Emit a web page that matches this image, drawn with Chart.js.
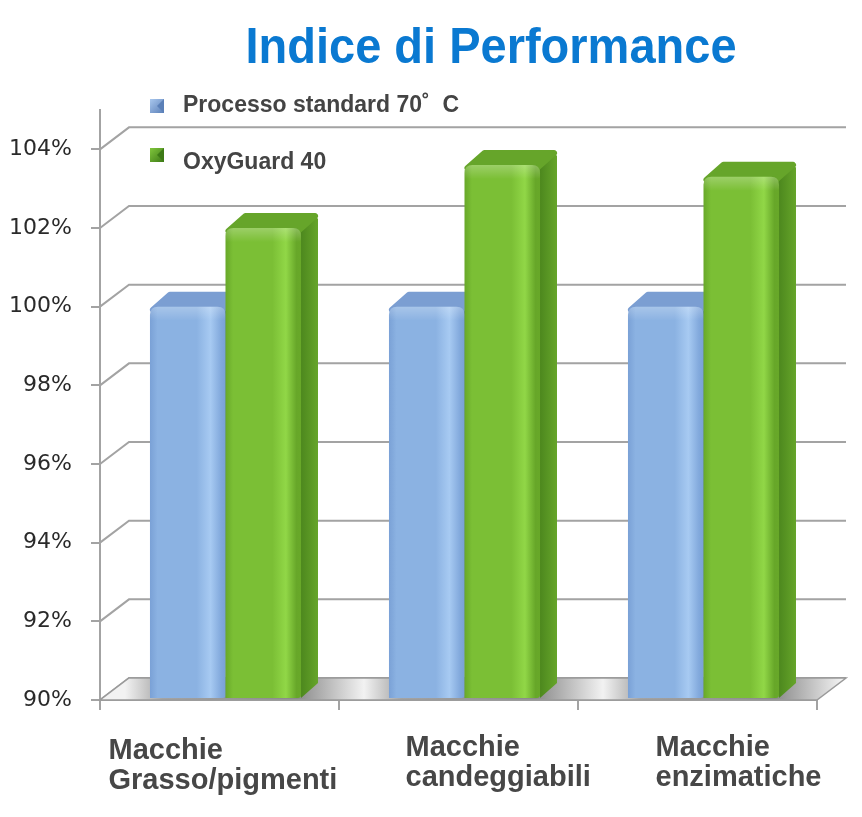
<!DOCTYPE html>
<html>
<head>
<meta charset="utf-8">
<script src="https://cdn.jsdelivr.net/npm/chart.js@4"></script>
<style>
  html, body { margin: 0; padding: 0; background: #fff; }
  #wrap { width: 862px; height: 817px; position: relative; }
</style>
</head>
<body>
<div id="wrap"><canvas id="chart"></canvas></div>
<script>
// data
const categories = [
    ['Macchie', 'Grasso/pigmenti'],
    ['Macchie', 'candeggiabili'],
    ['Macchie', 'enzimatiche']
];
const seriesNames = ['Processo standard 70˚  C', 'OxyGuard 40'];
const standardValues = [100, 100, 100];
const oxyGuardValues = [102.0, 103.6, 103.3];
const yTickValues = [90, 92, 94, 96, 98, 100, 102, 104];
const chartTitle = 'Indice di Performance';

// look
const WALL = { dx: 29, dy: 22 };
const BAR = { shift: 6, dx: 17, dy: 15, r: 8 };
const GRID_COLOR = '#a3a3a3';
const palette = [
    { front: ['#7aa1d6', '#8bb2e2', '#a7caf2', '#82a9dc'], top: '#7b9ed2', side: '#6284b9', mark: ['#5b80b8', '#a9c7ee'] },
    { front: ['#68a829', '#7bbf35', '#91d747', '#67a729'], top: '#66a52a', side: '#4d881e', mark: ['#3d7a16', '#80c63c'] }
];
// where each category caption starts, relative to the category centre
const labelDx = [-111, -53, -42];
const labelDy = [59, 56, 56];
// legend rows: marker top and text baseline
const legendRows = [{ my: 99, ty: 112 }, { my: 148, ty: 169 }];

function frontPath(ctx, l, t, w, h, r) {
    ctx.beginPath();
    ctx.moveTo(l, t + h);
    ctx.lineTo(l, t + r);
    ctx.quadraticCurveTo(l, t, l + r, t);
    ctx.lineTo(l + w - r, t);
    ctx.quadraticCurveTo(l + w, t, l + w, t + r);
    ctx.lineTo(l + w, t + h - 3);
    ctx.quadraticCurveTo(l + w, t + h, l + w - 3, t + h);
    ctx.lineTo(l + 3, t + h);
    ctx.closePath();
}

function poly(ctx, pts) {
    ctx.beginPath();
    ctx.moveTo(pts[0][0], pts[0][1]);
    for (let i = 1; i < pts.length; i++) ctx.lineTo(pts[i][0], pts[i][1]);
    ctx.closePath();
}

function drawBar(ctx, el, pal, floorY) {
    const { x, y, width } = el.getProps(['x', 'y', 'width'], true);
    const l = x - width / 2 + BAR.shift;
    const r = l + width;
    const t = y;
    const b = floorY - 2;

    // right side
    const side = ctx.createLinearGradient(r, 0, r + BAR.dx, 0);
    side.addColorStop(0, pal.side);
    side.addColorStop(1, pal.top);
    ctx.fillStyle = side;
    poly(ctx, [[r - 2, t + 2], [r + BAR.dx - 3, t - BAR.dy + 2], [r + BAR.dx, t - BAR.dy + 6],
        [r + BAR.dx, b - BAR.dy], [r, b]]);
    ctx.fill();

    // top
    ctx.fillStyle = pal.top;
    ctx.strokeStyle = pal.top;
    ctx.lineJoin = 'round';
    ctx.lineWidth = 6;
    poly(ctx, [[l + 3, t + 3], [r - 3, t + 3], [r + BAR.dx - 3, t - BAR.dy + 3], [l + BAR.dx + 3, t - BAR.dy + 3]]);
    ctx.fill();
    ctx.stroke();

    // front
    const g = ctx.createLinearGradient(l, 0, r, 0);
    g.addColorStop(0, pal.front[0]);
    g.addColorStop(0.1, pal.front[1]);
    g.addColorStop(0.62, pal.front[1]);
    g.addColorStop(0.8, pal.front[2]);
    g.addColorStop(0.94, pal.front[3]);
    g.addColorStop(1, pal.front[0]);
    ctx.fillStyle = g;
    frontPath(ctx, l, t, width, b - t, BAR.r);
    ctx.fill();
    // soft bevel on the top edge
    const sheen = ctx.createLinearGradient(0, t, 0, t + 14);
    sheen.addColorStop(0, 'rgba(255,255,255,0.25)');
    sheen.addColorStop(1, 'rgba(255,255,255,0)');
    ctx.fillStyle = sheen;
    frontPath(ctx, l, t, width, 14, BAR.r);
    ctx.fill();
}

const scene3d = {
    id: 'scene3d',
    beforeDatasetsDraw(chart) {
        const { ctx, chartArea: a, scales } = chart;
        const ys = scales.y;
        ctx.save();

        // back wall grid with the diagonal on the side wall
        ctx.strokeStyle = GRID_COLOR;
        ctx.lineWidth = 2;
        ys.ticks.forEach(t => {
            const py = ys.getPixelForValue(t.value);
            ctx.beginPath();
            ctx.moveTo(a.left, py);
            ctx.lineTo(a.left + WALL.dx, py - WALL.dy);
            ctx.lineTo(a.right + WALL.dx, py - WALL.dy);
            ctx.stroke();
        });

        // floor
        const fy = ys.getPixelForValue(yTickValues[0]);
        const fl = ctx.createLinearGradient(a.left, 0, a.right + WALL.dx, 0);
        const span = a.right + WALL.dx - a.left;
        const step = (a.right - a.left) / categories.length;
        for (let k = 0; k <= categories.length; k++) {
            const c = (k * step + 25) / span;
            if (c - 0.09 > 0) fl.addColorStop(c - 0.09, '#8a8a8a');
            if (c < 1) fl.addColorStop(c, '#f2f2f2');
            if (c + 0.05 < 1) fl.addColorStop(c + 0.05, '#a4a4a4');
        }
        ctx.fillStyle = fl;
        poly(ctx, [[a.left, fy], [a.right, fy], [a.right + WALL.dx, fy - WALL.dy], [a.left + WALL.dx, fy - WALL.dy]]);
        ctx.fill();
        ctx.strokeStyle = '#9a9a9a';
        ctx.lineWidth = 1.5;
        ctx.stroke();

        // columns, category by category so the green front hides the blue side
        const metas = chart.data.datasets.map((d, i) => chart.getDatasetMeta(i));
        for (let i = 0; i < categories.length; i++) {
            metas.forEach((m, di) => drawBar(ctx, m.data[i], palette[di], fy));
        }
        ctx.restore();
        return false;
    },
    afterDraw(chart) {
        const { ctx, chartArea: a, scales } = chart;
        const dpr = chart.currentDevicePixelRatio;
        ctx.save();

        // title
        ctx.fillStyle = '#0a79d1';
        ctx.font = 'bold 47px "Liberation Sans", Arial, sans-serif';
        ctx.textAlign = 'center';
        ctx.textBaseline = 'alphabetic';
        ctx.translate(491, 63);
        ctx.scale(1, 1.07);
        ctx.fillText(chartTitle, 0, 0);
        ctx.setTransform(dpr, 0, 0, dpr, 0, 0);

        // legend inside the plot
        ctx.textAlign = 'left';
        ctx.font = 'bold 23px "Liberation Sans", Arial, sans-serif';
        seriesNames.forEach((name, i) => {
            const my = legendRows[i].my;
            const mg = ctx.createLinearGradient(150, my, 164, my + 14);
            mg.addColorStop(0, palette[i].mark[1]);
            mg.addColorStop(1, palette[i].mark[0]);
            ctx.fillStyle = mg;
            ctx.fillRect(150, my, 14, 14);
            ctx.fillStyle = palette[i].mark[0];
            poly(ctx, [[164, my], [164, my + 14], [157, my + 7]]);
            ctx.fill();
            ctx.fillStyle = '#444';
            ctx.save();
            ctx.translate(183, legendRows[i].ty);
            ctx.scale(1, 1.08);
            ctx.fillText(name, 0, 0);
            ctx.restore();
        });

        // category captions
        ctx.fillStyle = '#474747';
        ctx.font = 'bold 29px "Liberation Sans", Arial, sans-serif';
        categories.forEach((lines, i) => {
            const cx = scales.x.getPixelForValue(i) + labelDx[i];
            lines.forEach((txt, j) => {
                ctx.save();
                ctx.translate(cx, a.bottom + labelDy[i] + j * 30);
                ctx.scale(1, 1.03);
                ctx.fillText(txt, 0, 0);
                ctx.restore();
            });
        });
        ctx.restore();
    }
};

new Chart(document.getElementById('chart'), {
    type: 'bar',
    data: {
        labels: categories,
        datasets: [
            { label: seriesNames[0], data: standardValues, backgroundColor: palette[0].front[1] },
            { label: seriesNames[1], data: oxyGuardValues, backgroundColor: palette[1].front[1] }
        ]
    },
    options: {
        responsive: true,
        maintainAspectRatio: false,
        animation: false,
        layout: { padding: { left: 10, right: 45, top: 110, bottom: 107 } },
        datasets: { bar: { categoryPercentage: 0.632, barPercentage: 1 } },
        plugins: {
            legend: { display: false },
            title: { display: false },
            tooltip: { enabled: false }
        },
        scales: {
            x: {
                grid: { drawOnChartArea: false, tickLength: 10, color: GRID_COLOR, lineWidth: 2 },
                border: { display: true, color: GRID_COLOR, width: 2 },
                ticks: { display: false },
                afterFit(scale) { scale.height = 10; }
            },
            y: {
                min: 90,
                max: 105,
                afterBuildTicks(scale) { scale.ticks = yTickValues.map(v => ({ value: v })); },
                grid: { drawOnChartArea: false, tickLength: 9, color: GRID_COLOR, lineWidth: 2 },
                border: { display: true, color: GRID_COLOR, width: 2 },
                ticks: {
                    padding: 19,
                    color: '#2a2a2a',
                    font: { family: '"DejaVu Sans", sans-serif', size: 22 },
                    callback: v => v + '%'
                },
                afterFit(scale) { scale.width = 90; }
            }
        }
    },
    plugins: [scene3d]
});
</script>
</body>
</html>
